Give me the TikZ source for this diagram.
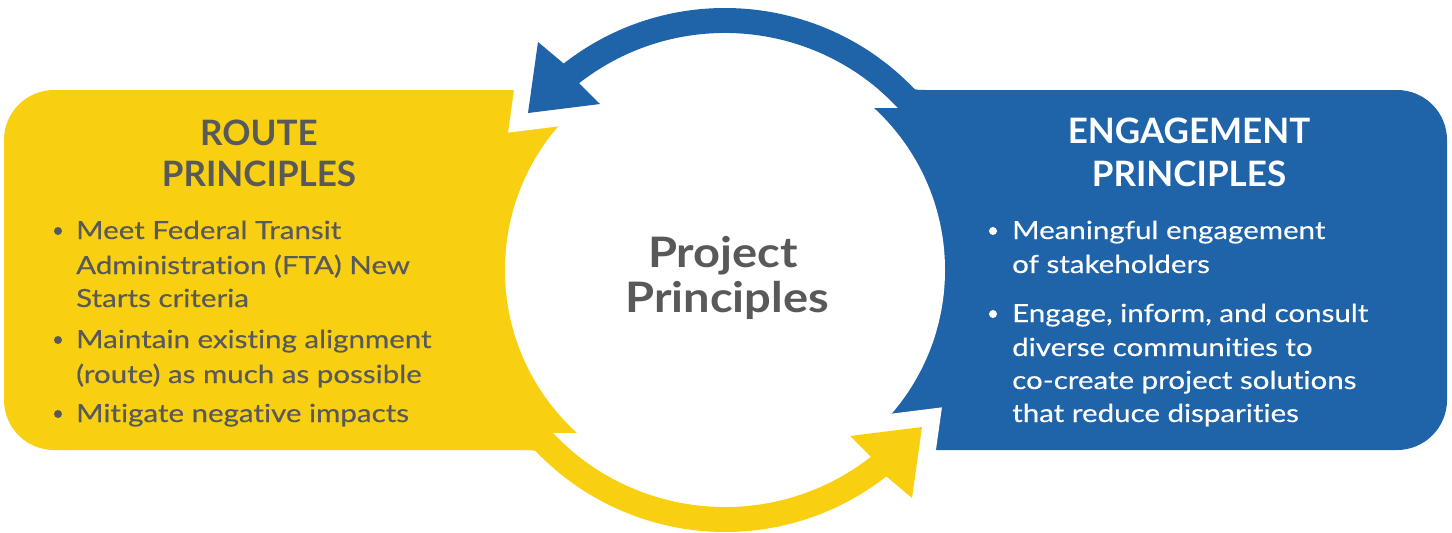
\documentclass[tikz,border=0pt]{standalone}
\usepackage{fontspec}
\setmainfont{Lato}[Ligatures=NoCommon]
\newfontfamily\bodyfont{Lato}[FakeStretch=1.18, FakeBold=0.35, Ligatures=NoCommon]
\newfontfamily\centerfont{Lato}[FakeStretch=1.12, Ligatures=NoCommon]
\definecolor{yel}{HTML}{F9D011}
\definecolor{blu}{HTML}{1F63A8}
\definecolor{txtgray}{HTML}{58595B}
\begin{document}
\begin{tikzpicture}[x=1pt,y=1pt,
  headtxt/.style={font=\bfseries\fontsize{35}{41}\selectfont, anchor=base, inner sep=0pt},
  centertxt/.style={font=\centerfont\bfseries\fontsize{42}{48}\selectfont, anchor=base, inner sep=0pt, text=txtgray},
  item/.style={font=\bodyfont\fontsize{25}{34}\selectfont, anchor=base west, inner sep=0pt},
  bul/.style={circle, inner sep=0pt, minimum size=8pt},
  gap/.style={draw=white, line width=34pt, line join=miter},
]
\useasboundingbox (0,0) rectangle (1452,-533);
\coordinate (C) at (725,-270);
% boxes
\fill[yel] (725,-90) -- (54,-90) arc[start angle=90,end angle=180,radius=50] -- (4,-400) arc[start angle=180,end angle=270,radius=50] -- (725,-450) -- cycle;
\fill[blu] (725,-90) -- (1397,-90) arc[start angle=90,end angle=0,radius=50] -- (1447,-400) arc[start angle=0,end angle=-90,radius=50] -- (725,-450) -- cycle;
% white gaps around the arrow heads
\draw[gap] (538,-42) -- (528,-113) -- (600,-104) -- cycle;
\draw[gap] (912,-498) -- (922,-427) -- (850,-436) -- cycle;
% central white disk and caps
\fill[white] (C) circle[radius=220];
\begin{scope}
  \clip (400,-107) rectangle (1050,0);
  \fill[white] (C) circle[radius=237];
\end{scope}
\begin{scope}
  \clip (400,-433) rectangle (1050,-533);
  \fill[white] (C) circle[radius=237];
\end{scope}
% blue arrow
\fill[blu] (925.7,-101.6) arc[start angle=40,end angle=128,radius=262] -- (538,-42) -- (528,-113) -- (600,-104) -- (579.1,-83.2) arc[start angle=128,end angle=40,radius=237] -- cycle;
\fill[blu] (909.5,-84) .. controls (914,-90) .. (926,-90) -- (912,-93) -- cycle;
% yellow arrow
\fill[yel] (524.3,-438.4) arc[start angle=220,end angle=308,radius=262] -- (912,-498) -- (922,-427) -- (850,-436) -- (870.9,-456.8) arc[start angle=308,end angle=220,radius=237] -- cycle;
\fill[yel] (540.5,-456) .. controls (536,-450) .. (524,-450) -- (538,-447) -- cycle;
% headings
\node[headtxt, text=txtgray] (rh1) at (259,-145) {ROUTE};
\node[headtxt, text=txtgray] (rh2) at (259,-186) {PRINCIPLES};
\node[headtxt, text=white] (eh1) at (1189,-143) {ENGAGEMENT};
\node[headtxt, text=white] (eh2) at (1189,-186) {PRINCIPLES};
% centre
\node[centertxt] (p1) at (723,-267) {Project};
\node[centertxt] (p2) at (727,-312) {Principles};
% left bullets
\node[bul, fill=txtgray] (lb1) at (58,-231) {};
\node[bul, fill=txtgray] (lb2) at (58,-340) {};
\node[bul, fill=txtgray] (lb3) at (58,-414) {};
\node[item, text=txtgray] (l1) at (76,-239) {Meet Federal Transit};
\node[item, text=txtgray] (l2) at (76,-274) {Administration (FTA) New};
\node[item, text=txtgray] (l3) at (76,-307) {Starts criteria};
\node[item, text=txtgray] (l4) at (76,-348) {Maintain existing alignment};
\node[item, text=txtgray] (l5) at (76,-383) {(route) as much as possible};
\node[item, text=txtgray] (l6) at (76,-422) {Mitigate negative impacts};
% right bullets
\node[bul, fill=white] (rb1) at (993,-231) {};
\node[bul, fill=white] (rb2) at (993,-314) {};
\node[item, text=white] (r1) at (1012,-239) {Meaningful engagement};
\node[item, text=white] (r2) at (1012,-273) {of stakeholders};
\node[item, text=white] (r3) at (1012,-322) {Engage, inform, and consult};
\node[item, text=white] (r4) at (1012,-356) {diverse communities to};
\node[item, text=white] (r5) at (1012,-389) {co-create project solutions};
\node[item, text=white] (r6) at (1012,-422) {that reduce disparities};
\end{tikzpicture}
\end{document}
